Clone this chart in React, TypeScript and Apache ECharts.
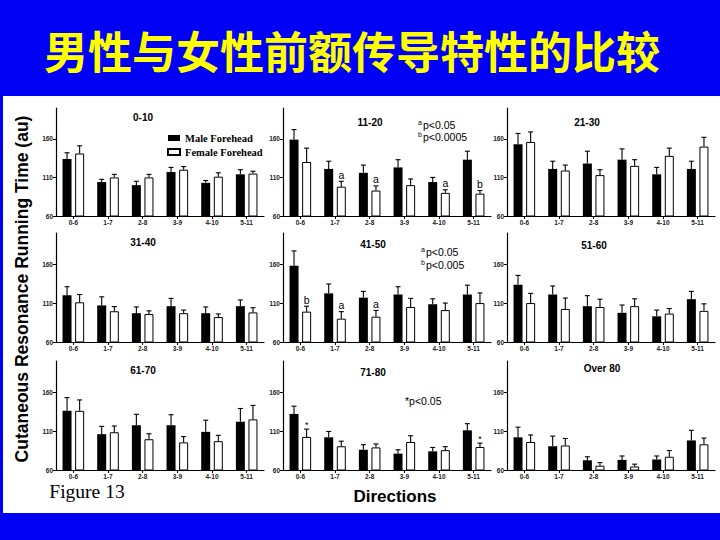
import React, { useEffect, useRef } from "react";
import * as echarts from "echarts";

const categories = ["0-6", "1-7", "2-8", "3-9", "4-10", "5-11"];
const yTickValues = [60, 110, 160];
const panelTitles = ["0-10", "11-20", "21-30", "31-40", "41-50", "51-60", "61-70", "71-80", "Over 80"];
const seriesNames = ["Male Forehead", "Female Forehead"];

const maleMean = [
  [134, 104, 100, 117, 103, 114],
  [159, 121, 116, 123, 104, 133],
  [153, 121, 128, 133, 114, 121],
  [120, 107, 97, 106, 97, 106],
  [158, 122.5, 117, 121, 108.5, 121],
  [133.5, 121, 106, 97.5, 93, 115],
  [136, 106, 117.5, 117.5, 109, 122],
  [132, 102, 86, 81, 84, 111],
  [102, 90.5, 72.5, 73, 73.5, 98],
];
const maleErr = [
  [8, 3.5, 5, 6, 3, 6],
  [13, 10, 10, 10, 6, 11],
  [14, 10, 16, 14, 9, 10],
  [11, 11, 8, 10, 8, 8],
  [19, 12, 8, 10, 7, 12],
  [12, 11, 13.5, 10, 8, 10],
  [17, 10, 14, 13.5, 15, 17],
  [10, 7.5, 6.5, 5, 5, 8.5],
  [13, 13, 4.5, 5, 4.5, 13],
];
const femaleMean = [
  [141, 110, 110, 120, 111, 115],
  [130, 98, 93, 100, 90, 89],
  [156, 119, 113, 125, 138, 150],
  [111, 99.5, 96, 97, 92, 98],
  [99, 90, 92.5, 105, 101, 110],
  [110, 102.5, 105, 106, 96.5, 100],
  [136, 108.5, 99.5, 95.5, 97, 125],
  [102.5, 90.5, 89, 96, 85.5, 89.5],
  [96, 91.5, 65.5, 64.5, 77, 93],
];
const femaleErr = [
  [10, 4, 4, 4, 5, 3],
  [18, 7, 6, 8, 4, 4],
  [13, 7, 7, 8, 10, 12],
  [10, 6, 4, 4, 4, 6],
  [7, 9, 8, 11, 9, 13],
  [12.5, 14, 10, 9.5, 6.5, 9],
  [14, 8, 7, 7.5, 7.5, 18],
  [10, 6.5, 4.5, 8, 4.5, 5],
  [9, 9, 4, 3, 8, 8],
];
const femaleMarks = [
  ["", "", "", "", "", ""],
  ["", "a", "a", "", "a", "b"],
  ["", "", "", "", "", ""],
  ["", "", "", "", "", ""],
  ["b", "a", "a", "", "", ""],
  ["", "", "", "", "", ""],
  ["", "", "", "", "", ""],
  ["*", "", "", "", "", "*"],
  ["", "", "", "", "", ""],
];

const titleText = "男性与女性前额传导特性的比较";
const yAxisTitle = "Cutaneous Resonance Running Time (au)";
const xAxisTitle = "Directions";
const figureLabel = "Figure 13";

// layout
const colLeft = [56, 283, 507];
const rowTop = [108, 233, 361];
const rowBottom = [216, 342, 470];
const gridWidth = 208;
const titlePos = [
  [143, 117], [370, 122], [587, 122],
  [143, 242], [373, 244], [594, 245],
  [143, 370], [373, 372], [602, 368],
];

const SANS = "Liberation Sans";
const SERIF = "Liberation Serif";

function txt(x: number, y: number, text: string, opts: any = {}) {
  const align = opts.align || "left";
  const valign = opts.valign || "middle";
  return {
    type: "text",
    x,
    y,
    rotation: opts.rotation || 0,
    z: 100,
    style: {
      text,
      x: 0,
      y: 0,
      fill: opts.fill || "#000",
      fontSize: opts.size || 10,
      fontWeight: opts.weight || "normal",
      fontFamily: opts.family || SANS,
      align,
      verticalAlign: valign,
      textAlign: align,
      textVerticalAlign: valign,
      textShadowColor: opts.shadowColor,
      textShadowOffsetX: opts.shadowX,
      textShadowOffsetY: opts.shadowY,
      textShadowBlur: 0,
    },
  };
}

function errSeries(i: number, means: number[], errs: number[], sign: number, marks: string[] | null) {
  return {
    type: "custom",
    xAxisIndex: i,
    yAxisIndex: i,
    z: 5,
    silent: true,
    clip: false,
    data: means.map((m, j) => [j, m, errs[j]]),
    renderItem: (params: any, api: any) => {
      const j = api.value(0);
      const mean = api.value(1);
      const err = api.value(2);
      const p0 = api.coord([j, mean]);
      const p1 = api.coord([j, mean + err]);
      const x = p0[0] + sign * 6.3;
      const st = { stroke: "#000", lineWidth: 1.1 };
      const children: any[] = [
        { type: "line", shape: { x1: x, y1: p0[1], x2: x, y2: p1[1] }, style: st },
        { type: "line", shape: { x1: x - 2.5, y1: p1[1], x2: x + 2.5, y2: p1[1] }, style: st },
      ];
      const mark = marks ? marks[params.dataIndex] : "";
      if (mark) {
        children.push({
          type: "text",
          style: {
            text: mark,
            x,
            y: p1[1] - (mark === "*" ? 0 : 1),
            fill: "#000",
            fontSize: mark === "*" ? 9 : 10.5,
            fontFamily: SANS,
            align: "center",
            verticalAlign: "bottom",
            textAlign: "center",
            textVerticalAlign: "bottom",
          },
        });
      }
      return { type: "group", children };
    },
  };
}

export default function App() {
  const ref = useRef<HTMLDivElement>(null);
  useEffect(() => {
    if (!ref.current) return;
    const chart = echarts.init(ref.current, null, { renderer: "svg" });
    const grids: any[] = [];
    const xAxes: any[] = [];
    const yAxes: any[] = [];
    const series: any[] = [];
    for (let i = 0; i < 9; i++) {
      const r = Math.floor(i / 3);
      const c = i % 3;
      grids.push({ left: colLeft[c], top: rowTop[r], width: gridWidth, height: rowBottom[r] - rowTop[r] });
      xAxes.push({
        type: "category",
        gridIndex: i,
        data: categories,
        axisLine: { show: true, lineStyle: { color: "#000", width: 1.2 } },
        axisTick: { show: true, alignWithLabel: true, length: 3, lineStyle: { color: "#000" } },
        axisLabel: { fontSize: 6.5, fontWeight: "bold", color: "#222", margin: 3, fontFamily: SANS, interval: 0 },
        splitLine: { show: false },
      });
      yAxes.push({
        type: "value",
        gridIndex: i,
        min: 60,
        max: 200,
        axisLine: { show: true, lineStyle: { color: "#000", width: 1.2 } },
        axisTick: { show: true, length: 3, customValues: yTickValues, lineStyle: { color: "#000" } },
        axisLabel: { fontSize: 6.5, fontWeight: "bold", color: "#222", margin: 3, fontFamily: SANS, customValues: yTickValues },
        splitLine: { show: false },
      });
      series.push({
        name: seriesNames[0],
        type: "bar",
        xAxisIndex: i,
        yAxisIndex: i,
        barWidth: 9,
        barGap: "40%",
        data: maleMean[i],
        itemStyle: { color: "#000" },
      });
      series.push({
        name: seriesNames[1],
        type: "bar",
        xAxisIndex: i,
        yAxisIndex: i,
        barWidth: 9,
        barGap: "40%",
        data: femaleMean[i],
        itemStyle: { color: "#fff", borderColor: "#000", borderWidth: 1 },
      });
      series.push(errSeries(i, maleMean[i], maleErr[i], -1, null));
      series.push(errSeries(i, femaleMean[i], femaleErr[i], 1, femaleMarks[i]));
    }

    const graphics: any[] = [
      { type: "rect", z: -10, shape: { x: 3, y: 96, width: 717, height: 417 }, style: { fill: "#ffffff" } },
      txt(352, 50, titleText, {
        align: "center", size: 44, weight: "bold", family: "Noto Sans CJK SC", fill: "#ffff00",
        shadowColor: "rgba(0,0,60,0.8)", shadowX: 2, shadowY: 2,
      }),
      txt(22, 289, yAxisTitle, { align: "center", size: 17.5, weight: "bold", rotation: Math.PI / 2 }),
      txt(395, 496, xAxisTitle, { align: "center", size: 17, weight: "bold" }),
      txt(87, 491, figureLabel, { align: "center", size: 19.5, family: SERIF }),
      // significance notes
      txt(418, 122, "a", { size: 7 }),
      txt(423, 125, "p<0.05", { size: 10.5 }),
      txt(418, 134, "b", { size: 7 }),
      txt(423, 137, "p<0.0005", { size: 10.5 }),
      txt(421, 249, "a", { size: 7 }),
      txt(426, 252, "p<0.05", { size: 10.5 }),
      txt(421, 262, "b", { size: 7 }),
      txt(426, 265, "p<0.005", { size: 10.5 }),
      txt(405, 401, "*p<0.05", { size: 10.5 }),
    ];
    panelTitles.forEach((t, i) => {
      graphics.push(txt(titlePos[i][0], titlePos[i][1], t, { align: "center", size: 10, weight: "bold" }));
    });

    chart.setOption({
      animation: false,
      backgroundColor: "#0000f5",
      grid: grids,
      xAxis: xAxes,
      yAxis: yAxes,
      series,
      legend: {
        data: seriesNames,
        orient: "vertical",
        left: 162,
        top: 127,
        itemWidth: 12,
        itemHeight: 6,
        itemGap: 2,
        selectedMode: false,
        icon: "rect",
        textStyle: { fontFamily: SERIF, fontWeight: "bold", fontSize: 10.5, color: "#000", lineHeight: 12, padding: [0, 0, 0, 0] },
      },
      graphic: graphics,
    });
    return () => chart.dispose();
  }, []);
  return <div ref={ref} style={{ position: "absolute", left: 0, top: 0, width: 720, height: 540 }} />;
}
